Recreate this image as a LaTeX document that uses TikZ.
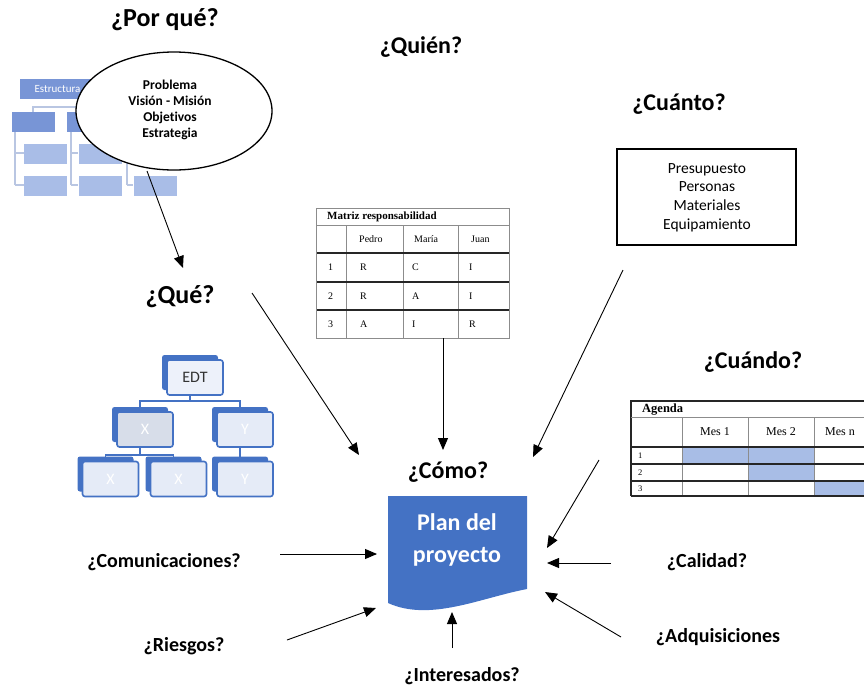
\documentclass[tikz,border=0pt]{standalone}
\usepackage{fontspec}
\setmainfont{Carlito}[Ligatures=NoCommon]
\newfontfamily\tabfont{Liberation Serif}
\usetikzlibrary{arrows.meta,shapes.geometric}

\definecolor{office}{HTML}{4472C4}
\definecolor{orgmid}{HTML}{7895D6}
\definecolor{orglight}{HTML}{A9BDE7}
\definecolor{orgline}{HTML}{B9C6E2}
\definecolor{cellblue}{HTML}{A8BDE6}
\definecolor{edtpale}{HTML}{EDF1FA}
\definecolor{edtgrey}{HTML}{D7DDE9}
\definecolor{edtsoft}{HTML}{E5EBF7}
\definecolor{rulegrey}{HTML}{8C8C8C}

\tikzset{
  heading/.style={font=\bfseries\fontsize{24}{28}\selectfont, inner sep=0pt},
  bigheading/.style={font=\bfseries\fontsize{26}{30}\selectfont, inner sep=0pt},
  label/.style={font=\bfseries\fontsize{20}{24}\selectfont, inner sep=0pt},
  flow/.style={line width=0.9pt, -{Triangle[length=12pt,width=10pt]}},
  orgbox/.style={inner sep=0pt, minimum width=43pt, minimum height=20pt},
  orgrule/.style={draw=orgline, line width=1.2pt},
  edtback/.style={fill=office, rounded corners=2.5pt, minimum width=56pt, minimum height=35pt, inner sep=0pt},
  edtfront/.style={draw=office, line width=1.6pt, rounded corners=2.5pt, minimum width=56pt, minimum height=35pt, inner sep=0pt, font=\fontsize{16}{18}\selectfont},
  edtlink/.style={draw=office, line width=1.5pt},
  cell/.style={font=\tabfont\fontsize{10}{12}\selectfont, inner sep=0pt, anchor=west},
  thinrule/.style={draw=rulegrey, line width=0.8pt},
  thickrule/.style={draw=black!85, line width=1.3pt},
}

\begin{document}
\begin{tikzpicture}[x=1pt,y=-1pt]
\useasboundingbox (0,0) rectangle (864,686);

% ---------- organisation chart behind the ellipse ----------
\draw[orgrule] (33,112) -- (33,107) -- (180,107);
\draw[orgrule] (88,107) -- (88,112);
\draw[orgrule] (15,132) -- (15,185);
\draw[orgrule] (15,153) -- (24,153);
\draw[orgrule] (15,185) -- (24,185);
\draw[orgrule] (71,132) -- (71,185);
\draw[orgrule] (71,153) -- (78,153);
\draw[orgrule] (71,185) -- (78,185);
\draw[orgrule] (127,130) -- (127,185);
\draw[orgrule] (127,153) -- (133,153);
\draw[orgrule] (127,185) -- (133,185);
\node[fill=orgmid, inner sep=0pt, minimum width=75pt, minimum height=20pt,
      text=white, font=\fontsize{11}{13}\selectfont] (estr) at (57.5,89) {Estructura};
\node[orgbox, fill=orgmid] (o21) at (33.5,122) {};
\node[orgbox, fill=orgmid] (o22) at (88.5,122) {};
\node[orgbox, fill=orglight] (o31) at (45.5,153.5) {};
\node[orgbox, fill=orglight] (o32) at (100,153.5) {};
\node[orgbox, fill=orglight] (o33) at (155,153.5) {};
\node[orgbox, fill=orglight] (o41) at (45.5,186) {};
\node[orgbox, fill=orglight] (o42) at (100,186) {};
\node[orgbox, fill=orglight] (o43) at (155,186) {};

% ---------- the "why" ellipse ----------
\node[ellipse, draw, line width=1.3pt, fill=white, minimum width=196pt, minimum height=118pt,
      inner sep=0pt] (why) at (174,111) {};
\node[align=center, font=\bfseries\fontsize{13.5}{16}\selectfont, inner sep=0pt] (whytext) at (170,110)
  {Problema\\Visión - Misión\\Objetivos\\Estrategia};

% ---------- headings ----------
\node[bigheading] (porque) at (165,20) {¿Por qué?};
\node[heading] (quien) at (421,47) {¿Quién?};
\node[heading] (cuanto) at (679,104) {¿Cuánto?};
\node[bigheading] (que) at (180,297) {¿Qué?};
\node[heading] (cuando) at (753,362) {¿Cuándo?};
\node[heading] (como) at (448,472) {¿Cómo?};
\node[label] (comunic) at (164,562) {¿Comunicaciones?};
\node[label] (riesgos) at (184,646) {¿Riesgos?};
\node[label] (interes) at (462,676) {¿Interesados?};
\node[label] (calidad) at (707,562) {¿Calidad?};
\node[label] (adquis) at (718,637) {¿Adquisiciones};

% ---------- resources box ----------
\node[draw, line width=1.5pt, minimum width=179pt, minimum height=96pt, inner sep=0pt] (recursos) at (706.5,197) {};
\node[align=center, font=\fontsize{15.5}{18.7}\selectfont, inner sep=0pt] (recursostext) at (707,197.5)
  {Presupuesto\\Personas\\Materiales\\Equipamiento};

% ---------- responsibility matrix ----------
\coordinate (mtl) at (316,208);
\coordinate (mbr) at (509,338);
\fill[white] (mtl) rectangle (mbr);
\draw[thinrule] (316,225) -- (509,225);
\foreach \cx in {346,403,458} \draw[thinrule] (\cx,225) -- (\cx,338);
\foreach \ry in {253,282,310} \draw[thickrule] (316,\ry) -- (509,\ry);
\draw[thinrule] (mtl) rectangle (mbr);
\node[cell, font=\tabfont\bfseries\fontsize{11}{13}\selectfont] (mtitle) at (327,216.5) {Matriz responsabilidad};
\node[cell] (hp) at (359,239) {Pedro};
\node[cell] (hm) at (414,239) {María};
\node[cell] (hj) at (471,239) {Juan};
\node[cell] (r1) at (328,267.5) {1};
\node[cell] (r1a) at (360,267.5) {R};
\node[cell] (r1b) at (412,267.5) {C};
\node[cell] (r1c) at (469,267.5) {I};
\node[cell] (r2) at (328,296) {2};
\node[cell] (r2a) at (360,296) {R};
\node[cell] (r2b) at (412,296) {A};
\node[cell] (r2c) at (469,296) {I};
\node[cell] (r3) at (328,324) {3};
\node[cell] (r3a) at (360,324) {A};
\node[cell] (r3b) at (412,324) {I};
\node[cell] (r3c) at (469,324) {R};

% ---------- schedule table ----------
\fill[cellblue] (682,447) rectangle (814,464);
\fill[cellblue] (748,464) rectangle (814,481);
\fill[cellblue] (814,481) rectangle (864,496);
\draw[thickrule] (864,401) -- (631,401) -- (631,496);
\draw[thinrule] (631,417) -- (864,417);
\foreach \cx in {682,748,814} \draw[thinrule] (\cx,417) -- (\cx,496);
\foreach \ry in {447,464,481,496} \draw[thickrule] (631,\ry) -- (864,\ry);
\node[cell, font=\tabfont\bfseries\fontsize{12.5}{14}\selectfont] (atitle) at (642,409.5) {Agenda};
\node[font=\tabfont\fontsize{12}{14}\selectfont, inner sep=0pt] (mes1) at (715,432) {Mes 1};
\node[font=\tabfont\fontsize{12}{14}\selectfont, inner sep=0pt] (mes2) at (781,432) {Mes 2};
\node[font=\tabfont\fontsize{12}{14}\selectfont, inner sep=0pt] (mesn) at (840,432) {Mes n};
\node[cell, font=\tabfont\fontsize{8.5}{10}\selectfont] (a1) at (638,456) {1};
\node[cell, font=\tabfont\fontsize{8.5}{10}\selectfont] (a2) at (638,473) {2};
\node[cell, font=\tabfont\fontsize{8.5}{10}\selectfont] (a3) at (638,489) {3};

% ---------- work breakdown structure ----------
% connectors first, then the shadow boxes, then the faces
\coordinate (edtb) at (190,372.5);
\coordinate (x2b) at (140,424.5);
\coordinate (y2b) at (240,424.5);
\coordinate (x3b) at (105.5,474);
\coordinate (x4b) at (173.5,474);
\coordinate (y3b) at (240,474);
\draw[edtlink] (edtb) -- ++(0,28.5) -| (x2b);
\draw[edtlink] (edtb) -- ++(0,28.5) -| (y2b);
\draw[edtlink] (x2b) -- ++(0,30.5) -| (x3b);
\draw[edtlink] (x2b) -- ++(0,30.5) -| (x4b);
\draw[edtlink] (y2b) -- (y3b);
\node[edtback] (edtsh) at (edtb) {};
\node[edtback] (x2sh) at (x2b) {};
\node[edtback] (y2sh) at (y2b) {};
\node[edtback] (x3sh) at (x3b) {};
\node[edtback] (x4sh) at (x4b) {};
\node[edtback] (y3sh) at (y3b) {};
\node[edtfront, fill=edtpale, text=black!80] (edt) at (195,377.5) {EDT};
\node[edtfront, fill=edtgrey, text=white] (x2) at (145,429.5) {X};
\node[edtfront, fill=edtsoft, text=white] (y2) at (245,429.5) {Y};
\node[edtfront, fill=edtsoft, text=white] (x3) at (110.5,479) {X};
\node[edtfront, fill=edtsoft, text=white] (x4) at (178.5,479) {X};
\node[edtfront, fill=edtsoft, text=white] (y3) at (245,479) {Y};

% ---------- project plan document ----------
\fill[office] (388,496) -- (527,496) -- (527,589)
  .. controls (480,598) and (430,622) .. (388,603) -- cycle;
\node[align=center, text=white, font=\bfseries\fontsize{24}{32}\selectfont, inner sep=0pt] (plan) at (457,540)
  {Plan del\\proyecto};

% ---------- arrow end points ----------
\coordinate (whyout) at (147,171);
\coordinate (queend) at (183,268);
\coordinate (questart) at (252,293);
\coordinate (queplan) at (359,455);
\coordinate (matout) at (443,338);
\coordinate (matplan) at (443,450);
\coordinate (recout) at (623,270);
\coordinate (recplan) at (533,457);
\coordinate (agout) at (599,460);
\coordinate (agplan) at (547,548);
\coordinate (calout) at (611,563);
\coordinate (calplan) at (547,563);
\coordinate (adqout) at (621,637);
\coordinate (adqplan) at (545,592);
\coordinate (comout) at (280,554);
\coordinate (complan) at (377,554);
\coordinate (riesout) at (287,640);
\coordinate (riesplan) at (376,608);
\coordinate (intout) at (452,648);
\coordinate (intplan) at (452,612);

\draw[flow] (whyout) -- (queend);
\draw[flow] (questart) -- (queplan);
\draw[flow] (matout) -- (matplan);
\draw[flow] (recout) -- (recplan);
\draw[flow] (agout) -- (agplan);
\draw[flow] (calout) -- (calplan);
\draw[flow] (adqout) -- (adqplan);
\draw[flow] (comout) -- (complan);
\draw[flow] (riesout) -- (riesplan);
\draw[flow] (intout) -- (intplan);
\end{tikzpicture}
\end{document}
